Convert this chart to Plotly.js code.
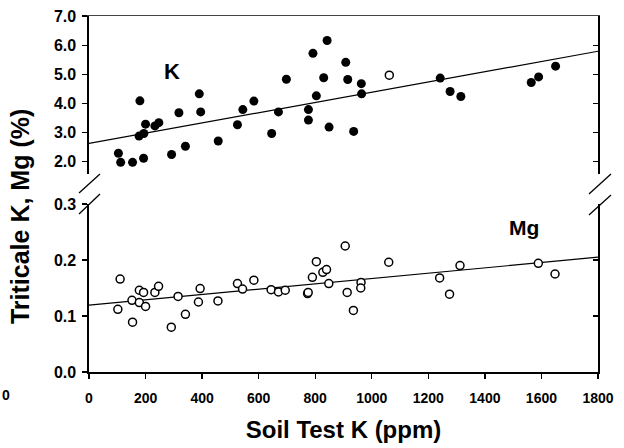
<!DOCTYPE html>
<html>
<head>
<meta charset="utf-8">
<script src="https://cdn.plot.ly/plotly-3.0.1.min.js"></script>
<style>
  html, body { margin: 0; padding: 0; background: #fff; }
  #chart { width: 624px; height: 448px; }
</style>
</head>
<body>
<div id="chart"></div>
<script>
// ---- Data ----
// Tissue K (%), filled circles
const kSoilK = [104, 112, 154, 193, 180, 200, 177, 194, 233, 247, 292, 318, 341, 390, 395, 457, 525, 544, 583,
                646, 670, 698, 776, 776, 792, 804, 830, 842, 849, 908, 915, 936, 963, 964,
                1242, 1277, 1315, 1564, 1590, 1650];
const kValues = [2.29, 1.98, 1.98, 2.12, 4.09, 3.29, 2.88, 2.97, 3.23, 3.34, 2.25, 3.68, 2.53, 4.33, 3.71, 2.71, 3.27, 3.79, 4.08,
                 2.97, 3.71, 4.83, 3.79, 3.43, 5.72, 4.26, 4.88, 6.16, 3.19, 5.41, 4.82, 3.04, 4.68, 4.33,
                 4.87, 4.41, 4.24, 4.72, 4.91, 5.28];
// Tissue K (%), open circle
const kOpenSoilK = [1062];
const kOpenValues = [4.97];
// Tissue Mg (%), open circles
const mgSoilK = [110, 102, 154, 152, 178, 200, 178, 193, 233, 246, 291, 315, 341, 387, 393, 456, 525, 543, 583,
                 644, 670, 694, 773, 775, 790, 804, 827, 840, 848, 906, 913, 935, 962, 961, 1060,
                 1240, 1275, 1312, 1589, 1648];
const mgValues = [0.166, 0.112, 0.089, 0.128, 0.124, 0.117, 0.146, 0.142, 0.142, 0.153, 0.080, 0.135, 0.103, 0.125, 0.149, 0.127, 0.158, 0.148, 0.164,
                  0.147, 0.143, 0.146, 0.140, 0.142, 0.169, 0.197, 0.178, 0.183, 0.158, 0.225, 0.142, 0.110, 0.160, 0.150, 0.196,
                  0.168, 0.139, 0.190, 0.194, 0.175];
// Regression lines (intercept, slope)
const kFit = [2.63, 0.001756];
const mgFit = [0.1195, 0.0000475];
const fitRange = [0, 1800];

// Tick labels
const xTicks = [0, 200, 400, 600, 800, 1000, 1200, 1400, 1600, 1800];
const kTicks = [2, 3, 4, 5, 6, 7];
const kTickText = ['2.0', '3.0', '4.0', '5.0', '6.0', '7.0'];
const mgTicks = [0, 0.1, 0.2, 0.3];
const mgTickText = ['0.0', '0.1', '0.2', '0.3'];

// ---- Styling ----
const FONT = 'Liberation Sans, Arial, sans-serif';
const tickFont = {family: FONT, size: 14, color: '#000', weight: 'bold'};
const yTickFont = {family: FONT, size: 16, color: '#000', weight: 'bold'};

const traces = [
  {x: fitRange, y: fitRange.map(v => kFit[0] + kFit[1] * v), xaxis: 'x2', yaxis: 'y2',
   mode: 'lines', line: {color: '#000', width: 1.2}, hoverinfo: 'skip', showlegend: false},
  {x: kSoilK, y: kValues, xaxis: 'x2', yaxis: 'y2', mode: 'markers',
   marker: {symbol: 'circle', size: 9, color: '#000', line: {width: 0}}, showlegend: false},
  {x: kOpenSoilK, y: kOpenValues, xaxis: 'x2', yaxis: 'y2', mode: 'markers',
   marker: {symbol: 'circle', size: 8, color: '#fff', line: {width: 1.5, color: '#000'}}, showlegend: false},
  {x: fitRange, y: fitRange.map(v => mgFit[0] + mgFit[1] * v), xaxis: 'x', yaxis: 'y',
   mode: 'lines', line: {color: '#000', width: 1.2}, hoverinfo: 'skip', showlegend: false},
  {x: mgSoilK, y: mgValues, xaxis: 'x', yaxis: 'y', mode: 'markers',
   marker: {symbol: 'circle', size: 8, color: '#fff', line: {width: 1.5, color: '#000'}}, showlegend: false},
  {x: [], y: [], xaxis: 'x', yaxis: 'y3', showlegend: false},
  {x: [], y: [], xaxis: 'x2', yaxis: 'y4', showlegend: false}
];

const slash = (x0, y0, x1, y1) => ({type: 'line', xref: 'paper', yref: 'paper', x0, y0, x1, y1,
  line: {color: '#000', width: 1.3}});

const layout = {
  width: 624, height: 448,
  margin: {l: 89, r: 26, t: 16, b: 76},
  paper_bgcolor: '#fff', plot_bgcolor: '#fff',
  showlegend: false,
  font: {family: FONT, color: '#000'},
  xaxis: {
    domain: [0, 1], range: [0, 1800], anchor: 'y',
    tickvals: xTicks, ticktext: xTicks.map(String), tickfont: tickFont,
    ticks: 'outside', ticklen: 5, tickwidth: 1.3, tickcolor: '#000', ticklabelstandoff: 8,
    showline: true, linewidth: 1.6, linecolor: '#000', showgrid: false, zeroline: false,
    title: {text: 'Soil Test K (ppm)', font: {family: FONT, size: 24, weight: 'bold', color: '#000'}, standoff: 16}
  },
  xaxis2: {
    domain: [0, 1], range: [0, 1800], anchor: 'y2', matches: 'x', side: 'top',
    showticklabels: false, ticks: '', showline: true, linewidth: 1, linecolor: '#444',
    showgrid: false, zeroline: false
  },
  yaxis: {
    domain: [0, 0.4719], range: [0, 0.3], anchor: 'x',
    tickvals: mgTicks, ticktext: mgTickText, tickfont: yTickFont,
    ticks: 'outside', ticklen: 5, tickwidth: 1.3, tickcolor: '#000', ticklabelstandoff: 3,
    showline: true, linewidth: 1.6, linecolor: '#000', showgrid: false, zeroline: false
  },
  yaxis3: {
    overlaying: 'y', side: 'right', anchor: 'x', range: [0, 0.3],
    tickvals: mgTicks, showticklabels: false,
    ticks: 'inside', ticklen: 5, tickwidth: 1.3, tickcolor: '#000',
    showline: true, linewidth: 1.6, linecolor: '#000', showgrid: false, zeroline: false
  },
  yaxis2: {
    domain: [0.5562, 1], range: [1.58, 7.0], anchor: 'x2',
    tickvals: kTicks, ticktext: kTickText, tickfont: yTickFont,
    ticks: 'outside', ticklen: 5, tickwidth: 1.3, tickcolor: '#000', ticklabelstandoff: 3,
    showline: true, linewidth: 1.6, linecolor: '#000', showgrid: false, zeroline: false
  },
  yaxis4: {
    overlaying: 'y2', side: 'right', anchor: 'x2', range: [1.58, 7.0],
    tickvals: kTicks, showticklabels: false,
    ticks: 'inside', ticklen: 5, tickwidth: 1.3, tickcolor: '#000',
    showline: true, linewidth: 1.6, linecolor: '#000', showgrid: false, zeroline: false
  },
  annotations: [
    {text: 'K', xref: 'x2', yref: 'y2', x: 292, y: 5.08, showarrow: false,
     font: {family: FONT, size: 22, weight: 'bold', color: '#000'}},
    {text: 'Mg', xref: 'x', yref: 'y', x: 1537, y: 0.258, showarrow: false,
     font: {family: FONT, size: 21, weight: 'bold', color: '#000'}},
    {text: 'Triticale K, Mg (%)', xref: 'paper', yref: 'paper', x: -0.1356, y: 0.438,
     textangle: -90, showarrow: false, xanchor: 'center', yanchor: 'middle',
     font: {family: FONT, size: 25, weight: 'bold', color: '#000'}},
    {text: '0', xref: 'paper', yref: 'paper', x: -0.1749, y: -0.0646, showarrow: false,
     xanchor: 'left', yanchor: 'middle', font: tickFont}
  ],
  shapes: [
    slash(-0.0196, 0.5028, 0.0216, 0.5562),
    slash(-0.0196, 0.4438, 0.0216, 0.5000),
    slash(0.9823, 0.5000, 1.0255, 0.5562),
    slash(0.9823, 0.4410, 1.0255, 0.4972)
  ]
};

Plotly.newPlot('chart', traces, layout, {staticPlot: true, displayModeBar: false});
</script>
</body>
</html>
